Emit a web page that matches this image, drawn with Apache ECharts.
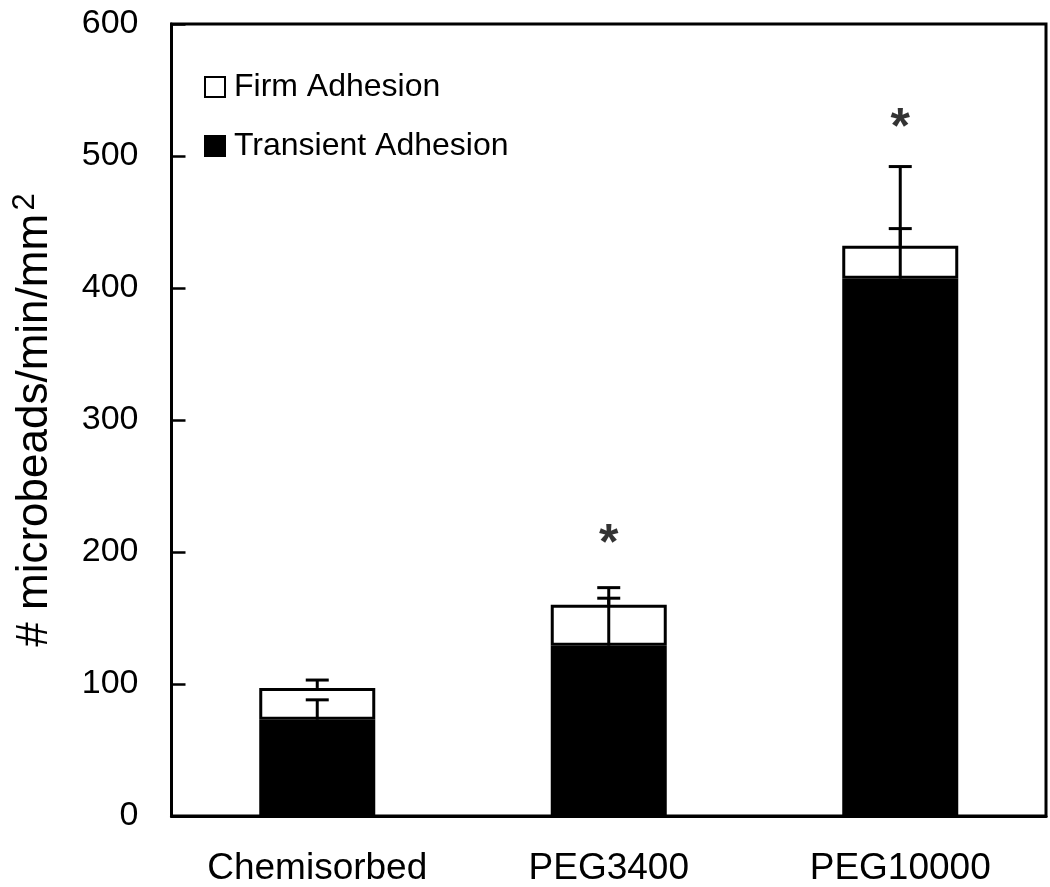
<!DOCTYPE html>
<html>
<head>
<meta charset="utf-8">
<script src="https://cdn.jsdelivr.net/npm/echarts@6/dist/echarts.min.js"></script>
<style>html,body{margin:0;padding:0;background:#fff;}#c{width:1050px;height:887px;}</style>
</head>
<body>
<div id="c"></div>
<script>
const categories = ['Chemisorbed', 'PEG3400', 'PEG10000'];
const transient = [73, 129, 407];
const firm = [24, 31, 25];
const transientSD = [15, 44, 85];
const totalSD = [6, 5, 13];
const significance = [null, 205, 520];
const yTicks = [0, 100, 200, 300, 400, 500, 600];

const FONT = 'Liberation Sans, Arial, sans-serif';
const chart = echarts.init(document.getElementById('c'), null, {renderer: 'canvas'});

const errData = [];
categories.forEach((c, i) => {
  errData.push([i, transient[i], transient[i] + transientSD[i]]);
  const tot = transient[i] + firm[i];
  errData.push([i, tot, tot + totalSD[i]]);
});

function renderErr(params, api) {
  const x = api.value(0);
  const p0 = api.coord([x, api.value(1)]);
  const p1 = api.coord([x, api.value(2)]);
  const half = 11.5;
  const st = {stroke: '#000', lineWidth: 3};
  return {
    type: 'group',
    children: [
      {type: 'line', shape: {x1: p0[0], y1: p0[1], x2: p1[0], y2: p1[1]}, style: st},
      {type: 'line', shape: {x1: p1[0] - half, y1: p1[1], x2: p1[0] + half, y2: p1[1]}, style: st}
    ]
  };
}

const option = {
  backgroundColor: '#fff',
  animation: false,
  textStyle: {fontFamily: FONT},
  grid: {left: 171.5, right: 4, top: 24, bottom: 69, show: true, borderColor: '#000', borderWidth: 3, backgroundColor: 'transparent'},
  legend: {
    orient: 'vertical', left: 199, top: 66,
    itemWidth: 20, itemHeight: 20, itemGap: 27,
    icon: 'rect',
    data: ['Firm Adhesion', 'Transient Adhesion'],
    textStyle: {fontSize: 32, color: '#000', fontFamily: FONT, padding: [0, 0, 0, 4]},
    selectedMode: false
  },
  xAxis: {
    type: 'category', data: categories,
    axisLine: {lineStyle: {color: '#000', width: 3}},
    axisTick: {inside: true, length: 10, lineStyle: {color: '#000', width: 2}},
    axisLabel: {fontSize: 37, color: '#000', margin: 34, fontFamily: FONT},
    splitLine: {show: false}
  },
  yAxis: {
    type: 'value', min: 0, max: 600, interval: 100,
    axisLine: {show: true, lineStyle: {color: '#000', width: 3}},
    axisTick: {show: true, inside: true, length: 14, lineStyle: {color: '#000', width: 2.5}},
    axisLabel: {fontSize: 34, color: '#000', margin: 33, fontFamily: FONT,
      padding: [0, 0, 14, 0], customValues: yTicks},
    splitLine: {show: false},
    name: '{m|# microbeads/min/mm} {s|2}',
    nameLocation: 'middle', nameGap: 112,
    nameTextStyle: {
      color: '#000',
      rich: {
        m: {fontSize: 44, fontFamily: FONT, color: '#000', lineHeight: 50},
        s: {fontSize: 31, fontFamily: FONT, color: '#000', lineHeight: 20, verticalAlign: 'top'}
      }
    }
  },
  series: [
    {
      name: 'Transient Adhesion', type: 'bar', stack: 'a', data: transient,
      barWidth: 116,
      itemStyle: {color: '#000', borderColor: '#000', borderWidth: 3}
    },
    {
      name: 'Firm Adhesion', type: 'bar', stack: 'a', data: firm,
      barWidth: 116,
      itemStyle: {color: '#fff', borderColor: '#000', borderWidth: 3}
    },
    {
      type: 'custom', renderItem: renderErr, data: errData, z: 5,
      encode: {x: 0, y: [1, 2]}
    },
    {
      type: 'scatter', symbolSize: 0, z: 6,
      data: significance.map((v, i) => v == null ? null : [i, v]).filter(d => d),
      label: {show: true, position: 'inside', formatter: '*', fontSize: 50, fontWeight: 'bold', color: '#000', fontFamily: FONT}
    }
  ]
};
chart.setOption(option);
</script>
</body>
</html>
